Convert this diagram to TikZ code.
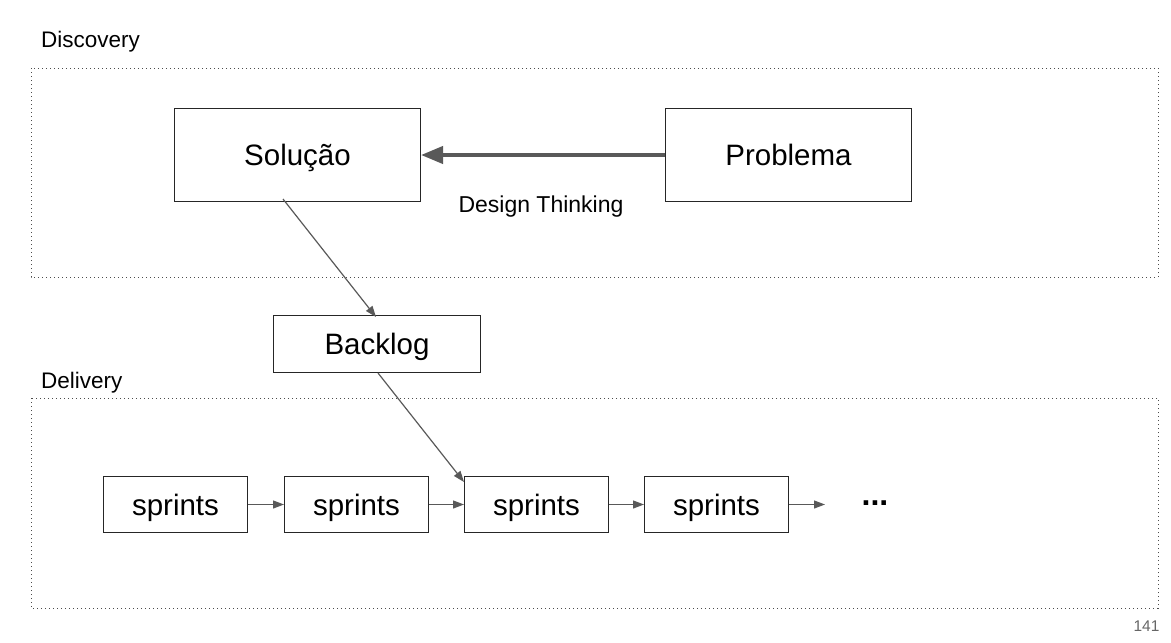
\documentclass[tikz,border=0pt]{standalone}
\usepackage{fontspec}
\setmainfont{Liberation Sans}
\usetikzlibrary{arrows.meta}
\definecolor{arr}{HTML}{595959}
\tikzset{
  box/.style={draw=black!85, line width=1pt, inner sep=0pt, anchor=north west,
    font=\fontsize{29.5}{32}\selectfont, text height=21.1pt, text depth=0pt},
  zone/.style={draw=black!70, line width=1pt, dash pattern=on 1pt off 3pt},
  thin/.style={draw=arr, line width=1.2pt, -{Triangle[length=11pt,width=8pt]}},
  lbl/.style={font=\fontsize{22.5}{26}\selectfont, anchor=base west, inner sep=0pt}
}
\begin{document}
\begin{tikzpicture}[x=1pt,y=-1pt]
\useasboundingbox (0,0) rectangle (1171,643);
\node[lbl] (disc) at (41,47.3) {Discovery};
\draw[zone] (31,68) rectangle (1158,277);
\node[lbl] (deliv) at (41,388.3) {Delivery};
\draw[zone] (31,398) rectangle (1158,608);

\node[box, minimum width=246pt, minimum height=93pt] (sol) at (174,108) {Solução};
\node[box, minimum width=246pt, minimum height=93pt] (prob) at (665,108) {Problema};
\draw[draw=arr, line width=4pt, -{Triangle[length=22pt,width=17pt]}] (prob.west) -- (sol.east);
\node[font=\fontsize{23}{26}\selectfont, anchor=base, inner sep=0pt] (dt) at (541,212.7) {Design Thinking};

\node[box, minimum width=207pt, minimum height=57pt] (back) at (273,315) {Backlog};

\node[box, minimum width=144pt, minimum height=56pt] (s1) at (103,476) {sprints};
\node[box, minimum width=144pt, minimum height=56pt] (s2) at (284,476) {sprints};
\node[box, minimum width=144pt, minimum height=56pt] (s3) at (464,476) {sprints};
\node[box, minimum width=144pt, minimum height=56pt] (s4) at (644,476) {sprints};
\coordinate (end) at (825,504);
\node[font=\fontsize{32}{34}\selectfont\bfseries, anchor=base, inner sep=0pt] (dots) at (875,505.5) {...};

\draw[thin] ([xshift=109pt,yshift=3pt]sol.south west) -- ([xshift=103pt,yshift=-2pt]back.north west);
\draw[thin] ([xshift=105pt]back.south west) -- ([yshift=-6pt]s3.north west);
\draw[thin] (s1.east) -- (s2.west);
\draw[thin] (s2.east) -- (s3.west);
\draw[thin] (s3.east) -- (s4.west);
\draw[thin] (s4.east) -- (s4.east -| end);

\node[font=\fontsize{15.5}{18}\selectfont, text=black!60, anchor=base, inner sep=0pt] (pg) at (1146.5,631.7) {141};
\end{tikzpicture}
\end{document}
